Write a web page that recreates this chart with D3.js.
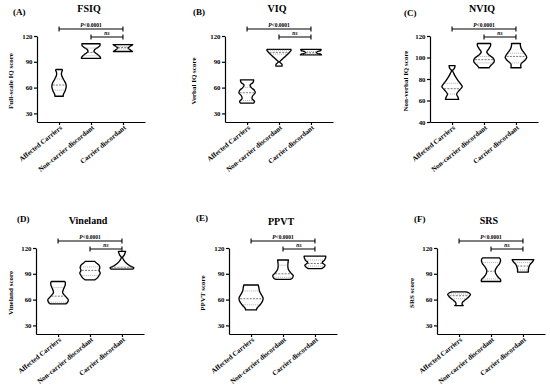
<!DOCTYPE html>
<html>
<head>
<meta charset="utf-8">
<script src="https://cdn.jsdelivr.net/npm/d3@7"></script>
<style>
  body { margin: 0; background: #fff; }
  text { font-family: "Liberation Serif", "DejaVu Serif", serif; font-weight: bold; }
</style>
</head>
<body>
<script>
// ---- data ----
const categories = ["Affected Carriers", "Non-carrier discordant", "Carrier discordant"];
const panelLetters = ["(A)", "(B)", "(C)", "(D)", "(E)", "(F)"];
const panelTitles = ["FSIQ", "VIQ", "NVIQ", "Vineland", "PPVT", "SRS"];
const yLabels = ["Full-scale IQ score", "Verbal IQ score", "Non-verbal IQ score",
                 "Vineland score", "PPVT score", "SRS score"];
const yDomains = [[20, 120], [20, 120], [40, 120], [20, 120], [20, 120], [20, 120]];
const yTicks = [[30, 60, 90, 120], [30, 60, 90, 120], [40, 60, 80, 100, 120],
                [30, 60, 90, 120], [30, 60, 90, 120], [30, 60, 90, 120]];
const pText = "<0.0001";
const nsText = "ns";

// violin outlines: [score, relative half-width], one list per group
const fsiqViolins = [
  [[50, 0.35], [52, 0.36], [56, 0.5], [61, 0.6], [65, 0.55], [70, 0.35], [75, 0.2], [78, 0.22], [80, 0.28], [81, 0.26]],
  [[94, 0.8], [96, 0.75], [99, 0.5], [102, 0.25], [104, 0.3], [107, 0.6], [109, 0.75], [111, 0.75]],
  [[102, 0.8], [104, 0.6], [106, 0.42], [108, 0.6], [110, 0.82]]
];
const viqViolins = [
  [[42, 0.55], [44, 0.62], [47, 0.42], [50, 0.45], [54, 0.68], [57, 0.6], [60, 0.35], [63, 0.25], [66, 0.5], [69, 0.55]],
  [[85, 0.25], [87, 0.25], [89, 0.1], [90, 0.05], [92, 0.2], [96, 0.5], [100, 0.8], [103, 1.0], [104.5, 1.0]],
  [[98, 0.88], [99, 0.8], [100, 0.5], [101, 0.45], [102, 0.55], [103, 0.8], [104.5, 0.85]]
];
const nviqViolins = [
  [[61, 0.55], [63, 0.5], [66, 0.38], [70, 0.65], [73, 0.85], [77, 0.6], [81, 0.35], [85, 0.15], [88, 0.05], [90, 0.2], [92.5, 0.25]],
  [[90.5, 0.42], [93, 0.6], [96, 0.85], [99, 0.8], [102, 0.45], [105, 0.23], [108, 0.4], [111, 0.55], [113, 0.55]],
  [[90.5, 0.42], [94, 0.42], [97, 0.7], [100, 0.9], [104, 0.7], [108, 0.45], [111, 0.37], [113, 0.37]]
];
const vinelandViolins = [
  [[55, 0.65], [57, 0.8], [60, 0.85], [64, 0.6], [68, 0.38], [72, 0.45], [77, 0.6], [80, 0.6], [81, 0.55]],
  [[83, 0.4], [85, 0.6], [88, 0.75], [91, 0.85], [94, 0.75], [97, 0.82], [100, 0.75], [103, 0.5], [104.5, 0.4]],
  [[95.5, 0.9], [97, 1.0], [99, 0.7], [102, 0.4], [106, 0.15], [109, 0.05], [112, 0.2], [116, 0.3]]
];
const ppvtViolins = [
  [[48, 0.45], [50, 0.5], [54, 0.75], [58, 0.95], [62, 1.0], [66, 0.85], [70, 0.7], [74, 0.65], [77, 0.6]],
  [[83.5, 0.6], [85, 0.78], [88, 0.85], [91, 0.65], [95, 0.45], [99, 0.4], [103, 0.42], [106, 0.45]],
  [[96, 0.55], [98, 0.75], [100, 0.85], [103, 0.6], [106, 0.8], [109, 0.9], [110.5, 0.9]]
];
const srsViolins = [
  [[53, 0.35], [54.5, 0.25], [57, 0.3], [60, 0.55], [63, 0.8], [66, 0.95], [68, 0.8], [69, 0.6]],
  [[81, 0.8], [83, 0.8], [86, 0.6], [90, 0.4], [94, 0.35], [98, 0.5], [102, 0.72], [106, 0.8], [108.5, 0.7]],
  [[92, 0.45], [95, 0.45], [98, 0.5], [101, 0.6], [104, 0.8], [106.5, 0.9]]
];
const violins = [fsiqViolins, viqViolins, nviqViolins, vinelandViolins, ppvtViolins, srsViolins];

// [q1, median, q3] per group
const fsiqQuartiles = [[57, 63, 70], [97, 101, 106], [105, 106.5, 108]];
const viqQuartiles = [[45, 54, 60], [99, 101, 103.5], [99, 100.5, 102]];
const nviqQuartiles = [[66, 71, 76], [95, 98, 101], [95, 101, 104]];
const vinelandQuartiles = [[57, 64, 74], [88, 94, 98], [96, 96.8, 98]];
const ppvtQuartiles = [[54, 61, 70], [86, 90, 100], [99, 102, 106]];
const srsQuartiles = [[61, 64.5, 66.5], [84, 93, 103], [94.5, 99, 103]];
const quartiles = [fsiqQuartiles, viqQuartiles, nviqQuartiles, vinelandQuartiles, ppvtQuartiles, srsQuartiles];

// ---- layout ----
const layout = [
  {ax: 37,  top: 36,  bottom: 122, letterX: 13,  letterY: 15,  titleY: 12,  labelDx: 24},
  {ax: 225, top: 36,  bottom: 122, letterX: 193, letterY: 15,  titleY: 12,  labelDx: 29},
  {ax: 430, top: 36,  bottom: 122, letterX: 404, letterY: 16,  titleY: 12,  labelDx: 22},
  {ax: 36,  top: 248, bottom: 334, letterX: 17,  letterY: 222, titleY: 224, labelDx: 23},
  {ax: 229, top: 248, bottom: 334, letterX: 196, letterY: 221, titleY: 225, labelDx: 24},
  {ax: 437, top: 248, bottom: 334, letterX: 414, letterY: 222, titleY: 224, labelDx: 23}
];
const plotW = 108;

const svg = d3.select("body").append("svg")
    .attr("width", 550)
    .attr("height", 392);

const w = d3.scaleLinear().domain([0, 1]).range([0, 12]);

layout.forEach((L, i) => {
  const g = svg.append("g");
  const x = d3.scalePoint().domain(categories).range([L.ax, L.ax + plotW]).padding(0.69);
  const y = d3.scaleLinear().domain(yDomains[i]).range([L.bottom, L.top]);

  // titles
  g.append("text").attr("x", L.letterX).attr("y", L.letterY)
    .attr("font-size", 9).text(panelLetters[i]);
  g.append("text").attr("x", L.ax + 52).attr("y", L.titleY)
    .attr("text-anchor", "middle").attr("font-size", 10).text(panelTitles[i]);

  // axes
  const yAxis = g.append("g")
    .attr("transform", `translate(${L.ax},0)`)
    .call(d3.axisLeft(y).tickValues(yTicks[i]).tickSize(3).tickSizeOuter(0).tickPadding(1.5));
  yAxis.selectAll("text").attr("font-size", 6.8).attr("font-family", "Liberation Serif").attr("font-weight", "bold");

  const xAxis = g.append("g")
    .attr("transform", `translate(0,${L.bottom})`)
    .call(d3.axisBottom(x).tickSize(3).tickSizeOuter(0));
  xAxis.selectAll("text")
    .attr("font-size", 7).attr("font-family", "Liberation Serif").attr("font-weight", "bold")
    .attr("text-anchor", "end")
    .attr("dy", 0).attr("y", 0)
    .attr("transform", "translate(3,6.5) rotate(-39)");
  g.selectAll(".domain, .tick line").attr("stroke", "#000").attr("stroke-width", 1.2);

  // y label
  g.append("text")
    .attr("transform", `translate(${L.ax - L.labelDx},${(L.top + L.bottom) / 2 + 2}) rotate(-90)`)
    .attr("text-anchor", "middle").attr("font-size", 7).text(yLabels[i]);

  // violins
  const area = d3.area()
    .y(d => y(d[0]))
    .curve(d3.curveCatmullRom.alpha(0.5));
  violins[i].forEach((prof, k) => {
    const cx = x(categories[k]);
    g.append("path")
      .datum(prof)
      .attr("d", area.x0(d => cx - w(d[1])).x1(d => cx + w(d[1]))(prof) + "Z")
      .attr("fill", "none").attr("stroke", "#000").attr("stroke-width", 1.35)
      .attr("stroke-linejoin", "round");
    const halfAt = d3.scaleLinear().domain(prof.map(d => d[0])).range(prof.map(d => d[1])).clamp(true);
    quartiles[i][k].forEach((q, qi) => {
      const hw = w(halfAt(q)) * 0.92;
      g.append("line")
        .attr("x1", cx - hw).attr("x2", cx + hw)
        .attr("y1", y(q)).attr("y2", y(q))
        .attr("stroke", qi === 1 ? "#555" : "#999")
        .attr("stroke-width", 0.8)
        .attr("stroke-dasharray", qi === 1 ? "2,1.2" : "1,1");
    });
  });

  // significance brackets
  const brackets = [
    {a: categories[0], b: categories[2], yy: L.top - 7, label: "p"},
    {a: categories[1], b: categories[2], yy: L.top + 1, label: "ns"}
  ];
  brackets.forEach(br => {
    const x1 = x(br.a), x2 = x(br.b);
    g.append("path")
      .attr("d", `M${x1},${br.yy - 2.5}V${br.yy + 2.5}M${x1},${br.yy}H${x2}M${x2},${br.yy - 2.5}V${br.yy + 2.5}`)
      .attr("stroke", "#000").attr("stroke-width", 1.1).attr("fill", "none");
    const t = g.append("text")
      .attr("x", (x1 + x2) / 2).attr("y", br.yy - 2.5)
      .attr("text-anchor", "middle").attr("font-size", 5.5);
    if (br.label === "p") {
      t.append("tspan").attr("font-style", "italic").text("P");
      t.append("tspan").text(pText);
    } else {
      t.attr("font-style", "italic").text(nsText);
    }
  });
});
</script>
</body>
</html>
